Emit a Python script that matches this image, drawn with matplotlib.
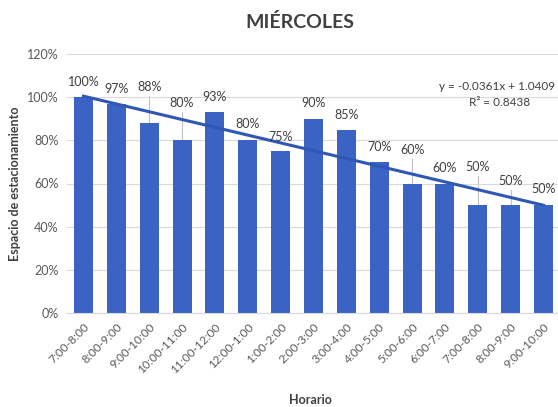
import numpy as np
import matplotlib
matplotlib.use('Agg')
import matplotlib.pyplot as plt

horarios = ['7:00-8:00', '8:00-9:00', '9:00-10:00', '10:00-11:00', '11:00-12:00',
            '12:00-1:00', '1:00-2:00', '2:00-3:00', '3:00-4:00', '4:00-5:00',
            '5:00-6:00', '6:00-7:00', '7:00-8:00', '8:00-9:00', '9:00-10:00']
ocupacion = [100, 97, 88, 80, 93, 80, 75, 90, 85, 70, 60, 60, 50, 50, 50]
y_ticks = [0, 20, 40, 60, 80, 100, 120]

# where the (hand placed) data labels sit, in % units
label_y = [107, 103.7, 104.7, 97.3, 100, 87.6, 81.5, 97.3, 91.7, 77, 75.5, 67.2, 67.6, 61.2, 57.4]

plt.rcParams['font.family'] = ['Lato', 'DejaVu Sans']

fig = plt.figure(figsize=(5.58, 4.07), dpi=100)
ax = fig.add_axes([67 / 558, 94 / 407, 493 / 558, 259 / 407])

x = np.arange(len(horarios))
vals = np.array(ocupacion) / 100
ax.bar(x, vals, width=0.58, color='#3A63C3', zorder=2)

# linear trendline (x counted from 1, like Excel)
xs = x + 1
m, b = np.polyfit(xs, vals, 1)
fit = m * xs + b
r2 = 1 - np.sum((vals - fit) ** 2) / np.sum((vals - vals.mean()) ** 2)
ax.plot(x, fit, color='#3157B5', lw=2.2, zorder=3)

for i, v in enumerate(ocupacion):
    ly = label_y[i] / 100
    ax.text(x[i], ly, f'{v}%', ha='center', va='center', fontsize=9, color='#404040', zorder=4)
    if label_y[i] - v > 10:
        ax.plot([x[i], x[i]], [ly - 0.04, v / 100], color='#BFBFBF', lw=0.8, zorder=1)

ax.set_xlim(-0.5, len(horarios) - 0.5)
ax.set_ylim(0, 1.2)
ax.set_yticks([t / 100 for t in y_ticks])
ax.set_yticklabels([f'{t}%' for t in y_ticks], color='#595959', fontsize=9)
ax.set_xticks(x)
ax.set_xticklabels(horarios, rotation=45, ha='right', rotation_mode='anchor',
                   color='#595959', fontsize=8.5)
ax.tick_params(length=0, pad=6)
ax.grid(axis='y', color='#D9D9D9', lw=0.8, zorder=0)
for s in ax.spines.values():
    s.set_visible(False)
ax.spines['bottom'].set_visible(True)
ax.spines['bottom'].set_color('#D9D9D9')

ax.set_ylabel('Espacio de estacionamiento', fontsize=9, fontweight='bold', color='#404040', labelpad=4)
fig.text(310 / 558, 1 - 400 / 407, 'Horario', ha='center', va='center',
         fontsize=9, fontweight='bold', color='#404040')
fig.text(300 / 558, 1 - 22 / 407, 'MIÉRCOLES', ha='center', va='center',
         fontsize=14, fontweight='bold', color='#404040')

fig.text(497 / 558, 1 - 87 / 407, f'y = {m:.4f}x + {b:.4f}', ha='center', va='center',
         fontsize=8.5, color='#404040')
fig.text(500 / 558, 1 - 103 / 407, f'R² = {r2:.4f}', ha='center', va='center',
         fontsize=8.5, color='#404040')

fig.savefig('out.png', dpi=100)
